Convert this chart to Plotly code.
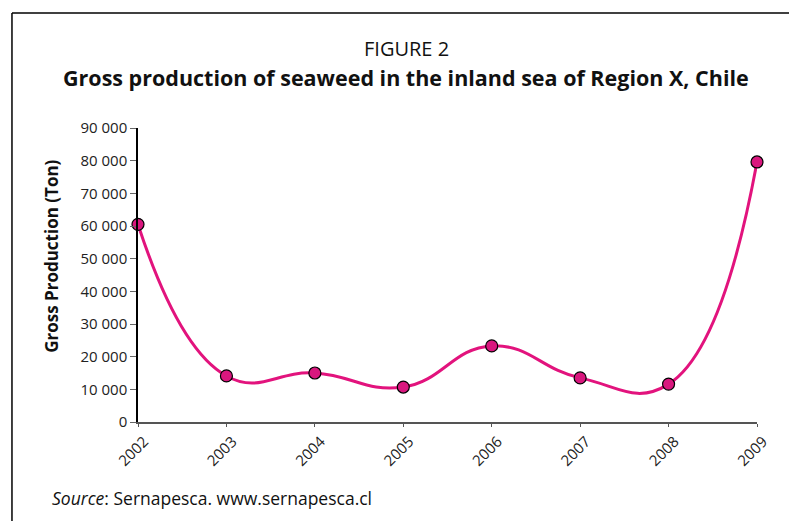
import plotly.graph_objects as go

years = [2002, 2003, 2004, 2005, 2006, 2007, 2008, 2009]
production = [60500, 14100, 15000, 10700, 23300, 13500, 11600, 79600]
y_tick_vals = [0, 10000, 20000, 30000, 40000, 50000, 60000, 70000, 80000, 90000]
y_tick_text = ["0", "10 000", "20 000", "30 000", "40 000", "50 000",
               "60 000", "70 000", "80 000", "90 000"]
x_tick_text = [str(y) for y in years]

FONT = "Open Sans"
MAG = "#E2137D"

fig = go.Figure()
fig.add_trace(go.Scatter(
    x=years, y=production, mode="lines+markers",
    line=dict(color=MAG, width=3, shape="spline", smoothing=1.3),
    marker=dict(size=12, color="#D9177E", line=dict(color="black", width=1.2)),
    cliponaxis=False, showlegend=False,
))

fig.update_layout(
    width=789, height=521,
    margin=dict(l=138, r=32, t=128, b=99),
    paper_bgcolor="white", plot_bgcolor="white",
    font=dict(family=FONT, color="#222"),
    xaxis=dict(
        range=[2002, 2009], tickvals=years, ticktext=x_tick_text,
        tickangle=-45, tickfont=dict(size=15, color="#222"),
        ticklabelshift=6,
        showgrid=False, zeroline=False, showline=True, linecolor="#555", linewidth=2,
        ticks="outside", ticklen=3, tickcolor="#555",
    ),
    yaxis=dict(
        range=[0, 90000], tickvals=y_tick_vals, ticktext=y_tick_text,
        tickfont=dict(size=15, color="#222"),
        showgrid=False, zeroline=False, showline=True, linecolor="black", linewidth=1.5,
        ticks="outside", ticklen=6, tickcolor="#666",
    ),
    annotations=[
        dict(text="FIGURE 2", xref="paper", yref="paper", x=0.433, y=1.0,
             yshift=64, showarrow=False, font=dict(size=20, color="#111", family=FONT),
             xanchor="center", yanchor="bottom"),
        dict(text="<b>Gross production of seaweed in the inland sea of Region X, Chile</b>",
             xref="paper", yref="paper", x=0.433, y=1.0, yshift=34, showarrow=False,
             font=dict(size=21.5, color="#111", family=FONT), xanchor="center", yanchor="bottom"),
        dict(text="<b>Gross Production (Ton)</b>", xref="paper", yref="paper",
             x=-0.139, y=0.565, textangle=-90, showarrow=False,
             xanchor="center", yanchor="middle", font=dict(size=17, color="#111", family=FONT)),
        dict(text="<i>Source</i>: Sernapesca. www.sernapesca.cl", xref="paper", yref="paper",
             x=-0.142, y=0, yshift=-62, showarrow=False, xanchor="left", yanchor="top",
             font=dict(size=17.5, color="#111", family=FONT)),
    ],
    shapes=[
        dict(type="line", xref="paper", yref="paper", x0=-0.2036, x1=1.06, y0=1.391, y1=1.391,
             line=dict(color="black", width=1.5)),
        dict(type="line", xref="paper", yref="paper", x0=-0.2036, x1=-0.2036, y0=1.391, y1=-0.35,
             line=dict(color="black", width=1.5)),
    ],
)

fig.write_html("out.html", config={"displayModeBar": False},
               post_script="document.body.style.margin='0px';")
